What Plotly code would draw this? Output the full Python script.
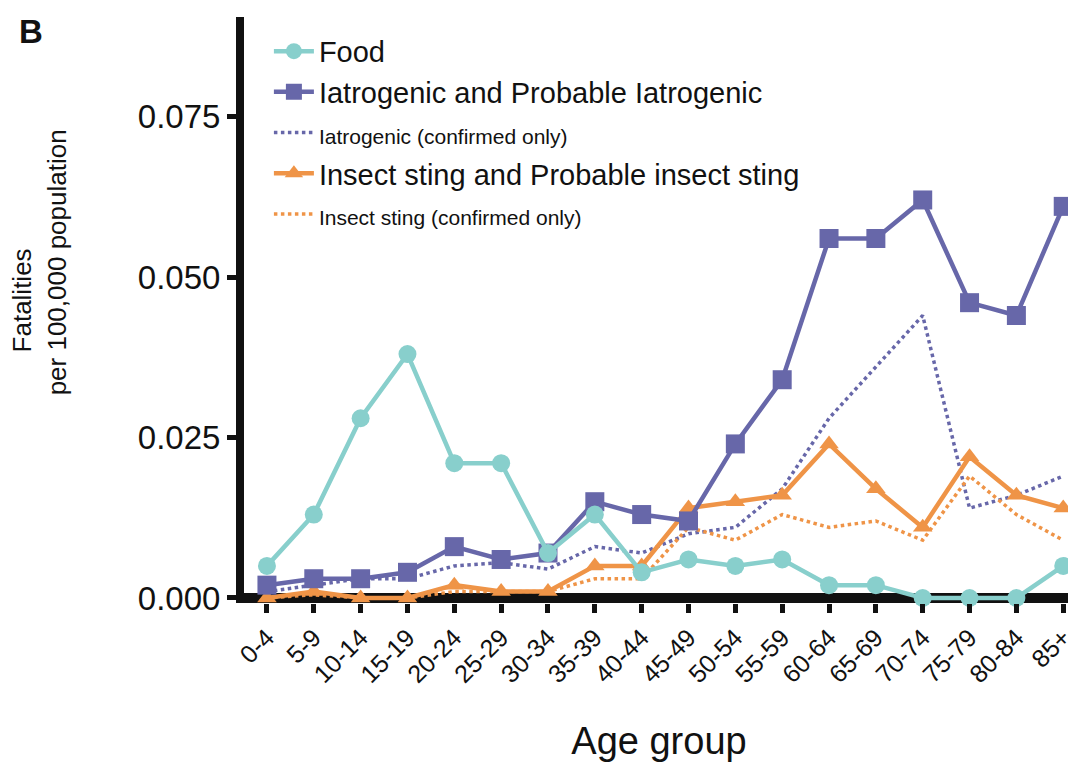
import plotly.graph_objects as go

age_groups = ["0-4", "5-9", "10-14", "15-19", "20-24", "25-29", "30-34", "35-39", "40-44",
              "45-49", "50-54", "55-59", "60-64", "65-69", "70-74", "75-79", "80-84", "85+"]

food = [0.005, 0.013, 0.028, 0.038, 0.021, 0.021, 0.007, 0.013, 0.004,
        0.006, 0.005, 0.006, 0.002, 0.002, 0.000, 0.000, 0.000, 0.005]
iatrogenic_probable = [0.002, 0.003, 0.003, 0.004, 0.008, 0.006, 0.007, 0.015, 0.013,
                       0.012, 0.024, 0.034, 0.056, 0.056, 0.062, 0.046, 0.044, 0.061]
iatrogenic_confirmed = [0.001, 0.002, 0.003, 0.003, 0.005, 0.0055, 0.0045, 0.008, 0.007,
                        0.010, 0.011, 0.017, 0.028, 0.036, 0.044, 0.014, 0.016, 0.019]
insect_probable = [0.000, 0.001, 0.000, 0.000, 0.002, 0.001, 0.001, 0.005, 0.005,
                   0.014, 0.015, 0.016, 0.024, 0.017, 0.011, 0.022, 0.016, 0.014]
insect_confirmed = [0.000, 0.0005, 0.000, 0.000, 0.001, 0.001, 0.001, 0.003, 0.003,
                    0.011, 0.009, 0.013, 0.011, 0.012, 0.009, 0.019, 0.013, 0.009]

y_ticks = [0.0, 0.025, 0.05, 0.075]

TEAL = "#88CFCC"
PURPLE = "#6767A9"
ORANGE = "#EF9447"
INK = "#111111"
FONT = "Liberation Sans, Arial, sans-serif"

fig = go.Figure()

fig.add_trace(go.Scatter(x=age_groups, y=iatrogenic_confirmed, mode="lines",
                         line=dict(color=PURPLE, width=3.5, dash="dot"),
                         name="<span style='font-size:21px'>Iatrogenic (confirmed only)</span>",
                         legendrank=3, cliponaxis=False))
fig.add_trace(go.Scatter(x=age_groups, y=insect_confirmed, mode="lines",
                         line=dict(color=ORANGE, width=3.5, dash="dot"),
                         name="<span style='font-size:21px'>Insect sting (confirmed only)</span>",
                         legendrank=5, cliponaxis=False))
fig.add_trace(go.Scatter(x=age_groups, y=insect_probable, mode="lines+markers",
                         line=dict(color=ORANGE, width=4.5),
                         marker=dict(symbol="triangle-up", size=17, color=ORANGE),
                         name="Insect sting and Probable insect sting",
                         legendrank=4, cliponaxis=False))
fig.add_trace(go.Scatter(x=age_groups, y=iatrogenic_probable, mode="lines+markers",
                         line=dict(color=PURPLE, width=4.5),
                         marker=dict(symbol="square", size=19, color=PURPLE),
                         name="Iatrogenic and Probable Iatrogenic",
                         legendrank=2, cliponaxis=False))
fig.add_trace(go.Scatter(x=age_groups, y=food, mode="lines+markers",
                         line=dict(color=TEAL, width=4.5),
                         marker=dict(symbol="circle", size=18, color=TEAL),
                         name="Food",
                         legendrank=1, cliponaxis=False))

fig.update_layout(
    width=1068, height=764,
    margin=dict(l=236, r=0, t=9, b=169),
    paper_bgcolor="white", plot_bgcolor="white",
    font=dict(family=FONT, color=INK),
    showlegend=True,
    legend=dict(x=0.03, y=0.985, xanchor="left", yanchor="top",
                font=dict(size=29, family=FONT, color=INK),
                bgcolor="rgba(0,0,0,0)", tracegroupgap=0, itemwidth=40),
    xaxis=dict(type="category", range=[-0.49, 17.23], showgrid=False, zeroline=False,
               showline=False, ticks="outside", ticklen=9, tickwidth=5, tickcolor=INK,
               tickangle=-45, tickfont=dict(size=25, family=FONT, color=INK),
               title=dict(text="Age group", font=dict(size=38, family=FONT, color=INK),
                          standoff=40)),
    yaxis=dict(range=[-0.00078, 0.0905], tickvals=y_ticks, tickformat=".3f",
               showgrid=False, zeroline=True, zerolinewidth=10, zerolinecolor=INK,
               showline=True, linewidth=8, linecolor=INK,
               ticks="outside", ticklen=9, tickwidth=5, tickcolor=INK,
               tickfont=dict(size=33, family=FONT, color=INK),
               layer="below traces"),
    annotations=[
        dict(text="<b>B</b>", xref="paper", yref="paper", x=-0.274, y=0.976,
             xanchor="left", yanchor="middle", showarrow=False,
             font=dict(size=33, family=FONT, color=INK)),
        dict(text="Fatalities", xref="paper", yref="paper",
             x=-0.267, y=0.517, xanchor="center", yanchor="middle", textangle=-90,
             showarrow=False, font=dict(size=26, family=FONT, color=INK)),
        dict(text="per 100,000 population", xref="paper", yref="paper",
             x=-0.2248, y=0.582, xanchor="center", yanchor="middle", textangle=-90,
             showarrow=False, font=dict(size=26, family=FONT, color=INK)),
    ],
)

fig.write_html("out.html")
